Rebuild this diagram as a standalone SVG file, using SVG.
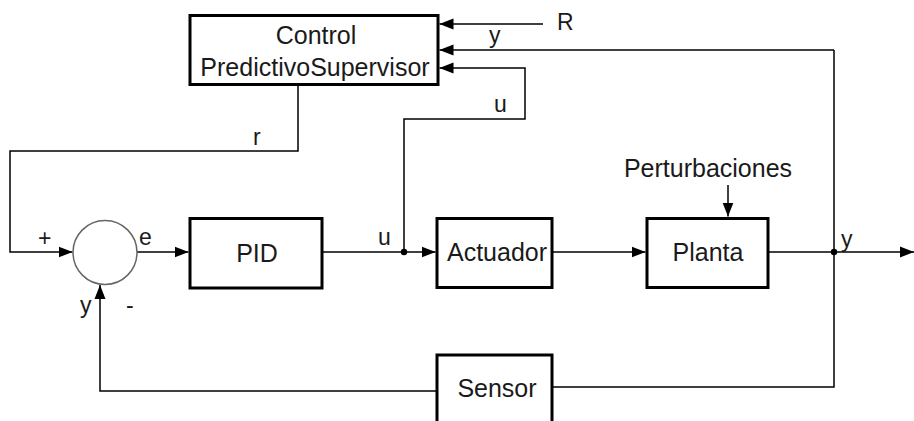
<svg xmlns="http://www.w3.org/2000/svg" width="914" height="421" viewBox="0 0 914 421">
<defs>
<style>
.box{fill:#fff;stroke:#000;stroke-width:3}
.ln{fill:none;stroke:#000;stroke-width:1.5}
.ar{marker-end:url(#ah)}
.t{font-family:"Liberation Sans",Arial,sans-serif;font-size:25px;fill:#1a1a1a}
.s{font-family:"Liberation Sans",Arial,sans-serif;font-size:23px;fill:#1a1a1a}
.c{text-anchor:middle}
</style>
<marker id="ah" markerUnits="userSpaceOnUse" markerWidth="14" markerHeight="12" refX="14" refY="6" orient="auto">
<path d="M0,0.5 L14,6 L0,11.5 z" fill="#000"/>
</marker>
</defs>
<rect width="914" height="421" fill="#fff"/>
<g id="connectors">
<path class="ln ar" d="M543,24 H439.5"/>
<path class="ln ar" d="M834,50 H439.5"/>
<path class="ln ar" d="M404,252 V119 H525 V68 H439.5"/>
<path class="ln ar" d="M298,85 V151 H10 V252 H72.5"/>
<path class="ln ar" d="M137,252 H188.5"/>
<path class="ln ar" d="M322,252 H435.5"/>
<path class="ln ar" d="M552,252 H645.5"/>
<path class="ln ar" d="M728,185 V216.5"/>
<path class="ln ar" d="M768,252 H914"/>
<path class="ln" d="M834,50 V387 H553"/>
<path class="ln ar" d="M436,391 H100 V285"/>
<circle cx="404" cy="252" r="3.2" fill="#000"/>
<circle cx="834" cy="252" r="3.2" fill="#000"/>
<text class="s" x="557" y="30">R</text>
<text class="s" x="489" y="43">y</text>
<text class="s" x="494" y="112">u</text>
<text class="s" x="253" y="145">r</text>
<text class="s" x="38" y="246">+</text>
<text class="s" x="139" y="245">e</text>
<text class="s" x="378" y="245">u</text>
<text class="s" x="841" y="247">y</text>
<text class="s" x="80" y="313">y</text>
<text class="s" x="126" y="313">-</text>
<text class="t c" x="708" y="177">Perturbaciones</text>
</g>
<g id="control">
<rect class="box" x="190" y="15.5" width="248" height="69"/>
<text class="t c" x="316" y="44">Control</text>
<text class="t c" x="315" y="76">PredictivoSupervisor</text>
</g>
<g id="sum">
<circle cx="105" cy="252.5" r="32" fill="#fff" stroke="#666" stroke-width="1.5"/>
</g>
<g id="pid">
<rect class="box" x="190" y="218.5" width="132" height="69.5"/>
<text class="t c" x="257" y="262">PID</text>
</g>
<g id="actuador">
<rect class="box" x="437" y="218.5" width="115" height="69"/>
<text class="t c" x="497" y="261">Actuador</text>
</g>
<g id="planta">
<rect class="box" x="647" y="218.5" width="121" height="69"/>
<text class="t c" x="708" y="261">Planta</text>
</g>
<g id="sensor">
<rect class="box" x="437" y="355" width="115" height="80"/>
<text class="t c" x="497" y="397">Sensor</text>
</g>
</svg>
